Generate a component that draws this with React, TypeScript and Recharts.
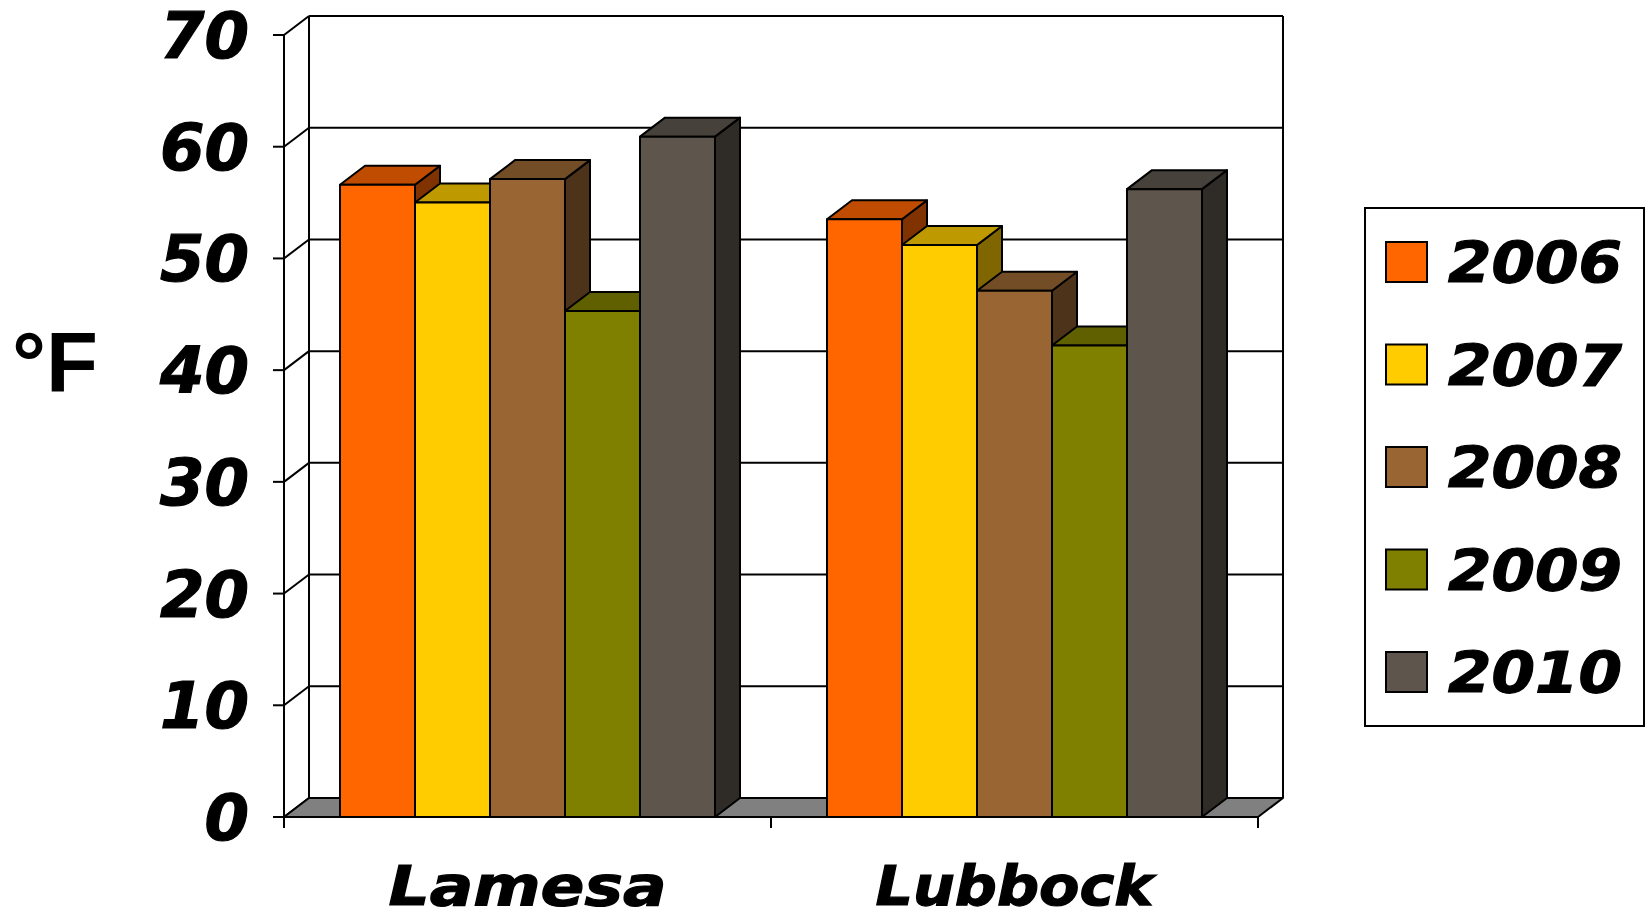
import React from "react";
import { BarChart, Bar, XAxis, YAxis, CartesianGrid, Legend, ReferenceArea } from "recharts";

const sites = ["Lamesa", "Lubbock"];
const years = ["2006", "2007", "2008", "2009", "2010"];
const temps2006 = [56.6, 53.5];
const temps2007 = [55.0, 51.2];
const temps2008 = [57.1, 47.1];
const temps2009 = [45.3, 42.2];
const temps2010 = [60.9, 56.2];
const yTicks = [0, 10, 20, 30, 40, 50, 60, 70];

const FRONT = ["#FF6600", "#FFCC00", "#996633", "#808000", "#5E564C"];
const TOP = ["#BF4C00", "#BF9900", "#734D26", "#606000", "#46413A"];
const SIDE = ["#803300", "#806600", "#4D3319", "#404000", "#2F2B26"];

// depth offset of the fake 3d
const DX = 25;
const DY = -19;
const LINE = 2;

const series = [temps2006, temps2007, temps2008, temps2009, temps2010];
const data = sites.map((site, i) => {
    const row: any = { site };
    years.forEach((y, k) => (row[y] = series[k][i]));
    return row;
});

const fontHeavy = {
    fontFamily: "'DejaVu Sans'",
    fontWeight: "bold" as const,
    fontStyle: "italic" as const,
    fill: "#000",
    stroke: "#000",
    strokeWidth: 1.2,
};

function Box3D(props: any) {
    const { x, y, width, height, fill, top, side } = props;
    if (width == null || height == null) return null;
    const r = x + width;
    const b = y + height;
    return (
        <g stroke="#000" strokeWidth={LINE} strokeLinejoin="round">
            <polygon points={`${r},${y} ${r + DX},${y + DY} ${r + DX},${b + DY} ${r},${b}`} fill={side} />
            <polygon points={`${x},${y} ${x + DX},${y + DY} ${r + DX},${y + DY} ${r},${y}`} fill={top} />
            <rect x={x} y={y} width={width} height={height} fill={fill} />
        </g>
    );
}

// walls and floor, drawn around the plot rectangle
function Walls(props: any) {
    const { x, y, width, height } = props;
    const b = y + height;
    const r = x + width;
    const edges = sites.map((_, i) => x + (i * width) / sites.length).concat([r]);
    return (
        <g stroke="#000" strokeWidth={LINE} strokeLinejoin="round">
            <line x1={x + DX} y1={y + DY} x2={x + DX} y2={b + DY} />
            <line x1={r + DX} y1={y + DY} x2={r + DX} y2={b + DY} />
            <polygon points={`${x},${b} ${x + DX},${b + DY} ${r + DX},${b + DY} ${r},${b}`} fill="#808080" />
            {edges.map((ex, i) => (
                <line key={i} x1={ex} y1={b} x2={ex} y2={b + 11} />
            ))}
        </g>
    );
}

const gridLine = (p: any) => (
    <g key={`g-${p.index}`} stroke="#000" strokeWidth={LINE}>
        <line x1={p.x1} y1={p.y1} x2={p.x1 + DX} y2={p.y1 + DY} />
        <line x1={p.x1 + DX} y1={p.y1 + DY} x2={p.x2 + DX} y2={p.y2 + DY} />
    </g>
);

const YTick = ({ x, y, payload }: any) => (
    <text x={x} y={y + 23} textAnchor="end" fontSize={64} {...fontHeavy}>
        {payload.value}
    </text>
);

const XTick = ({ x, y, payload }: any) => (
    <text x={x} y={y + 88} textAnchor="middle" fontSize={56} textLength={278} lengthAdjust="spacingAndGlyphs" {...fontHeavy}>
        {payload.value}
    </text>
);

const LegendBox = ({ payload }: any) => {
    const items = payload && payload.length ? payload : years.map((y, i) => ({ value: y, color: FRONT[i] }));
    return (
        <svg width={282} height={521} style={{ display: "block" }}>
            <rect x={1} y={1} width={279} height={518} fill="#fff" stroke="#000" strokeWidth={LINE} />
            {items.map((it: any, i: number) => {
                const cy = 55 + i * 102.5;
                return (
                    <g key={it.value}>
                        <rect x={22} y={cy - 20} width={41} height={40} fill={it.color} stroke="#000" strokeWidth={LINE} />
                        <text x={84} y={cy + 21} fontSize={57} textLength={174} lengthAdjust="spacingAndGlyphs" {...fontHeavy}>
                            {it.value}
                        </text>
                    </g>
                );
            })}
        </svg>
    );
};

export default function App() {
    return (
        <div style={{ position: "absolute", left: 0, top: 0, background: "#fff" }}>
            <BarChart
                width={1648}
                height={921}
                data={data}
                margin={{ top: 35, right: 390, bottom: 24, left: 20 }}
                barCategoryGap={56}
                barGap={0}
            >
                <CartesianGrid horizontal={gridLine} vertical={false} />
                <ReferenceArea y1={0} y2={70} ifOverflow="visible" shape={<Walls />} zIndex={-60} />
                <YAxis
                    width={264}
                    domain={[0, 70]}
                    ticks={yTicks}
                    interval={0}
                    axisLine={{ stroke: "#000", strokeWidth: LINE }}
                    tickLine={{ stroke: "#000", strokeWidth: LINE }}
                    tickSize={11}
                    tickMargin={24}
                    tick={<YTick />}
                    label={{
                        content: (p: any) => (
                            <text x={p.viewBox.x - 8} y={392} fontFamily="'Liberation Sans'" fontWeight="bold" fontSize={85} fill="#000">
                                °F
                            </text>
                        ),
                    }}
                />
                <XAxis
                    dataKey="site"
                    height={80}
                    axisLine={{ stroke: "#000", strokeWidth: LINE }}
                    tickLine={false}
                    tickSize={0}
                    tickMargin={0}
                    tick={<XTick />}
                    interval={0}
                />
                <Legend
                    layout="vertical"
                    align="center"
                    verticalAlign="middle"
                    content={<LegendBox />}
                    wrapperStyle={{ left: 1364, top: 207, width: 282, height: 521 }}
                />
                {years.map((yr, i) => (
                    <Bar
                        key={yr}
                        dataKey={yr}
                        name={yr}
                        fill={FRONT[i]}
                        isAnimationActive={false}
                        shape={(p: any) => <Box3D {...p} top={TOP[i]} side={SIDE[i]} />}
                    />
                ))}
            </BarChart>
        </div>
    );
}
